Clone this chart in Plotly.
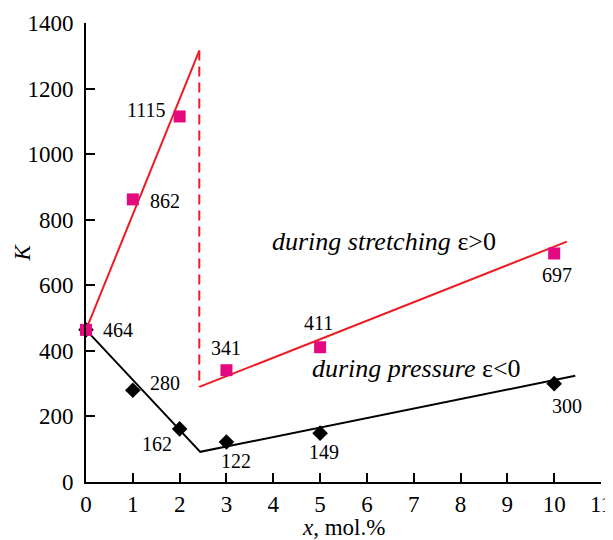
import plotly.graph_objects as go

# ---- data ----
x_points = [0, 1, 2, 3, 5, 10]
stretch_values = [464, 862, 1115, 341, 411, 697]
pressure_x = [0, 1, 2, 3, 5, 10]
pressure_values = [464, 280, 162, 122, 149, 300]

# fitted lines
stretch_fit1_x = [0, 2.42]
stretch_fit1_y = [464, 1316]
jump_x = [2.42, 2.42]
jump_y = [1316, 290]
stretch_fit2_x = [2.42, 10.27]
stretch_fit2_y = [290, 733]
pressure_fit_x = [0, 2.44, 10.45]
pressure_fit_y = [464, 92, 324]

x_ticks = list(range(0, 12))
y_ticks = list(range(0, 1401, 200))

stretch_labels = ["464", "862", "1115", "341", "411", "697"]
pressure_labels = ["", "280", "162", "122", "149", "300"]

# label offsets (pixels)
stretch_offsets = [(32, 0), (32, -2), (-33, 6), (0, 22), (-2, 24), (3, -22)]
pressure_offsets = [(0, 0), (32, 7), (-23, -15), (10, -19), (4, -19), (13, -22)]

RED = "#ED1C24"
MAG = "#E5097F"
FONT = "Liberation Serif, Times New Roman, DejaVu Serif, serif"

fig = go.Figure()
fig.add_trace(go.Scatter(x=stretch_fit1_x, y=stretch_fit1_y, mode="lines",
                         line=dict(color=RED, width=2), hoverinfo="skip"))
fig.add_trace(go.Scatter(x=jump_x, y=jump_y, mode="lines",
                         line=dict(color=RED, width=2, dash="10px,6px"), hoverinfo="skip"))
fig.add_trace(go.Scatter(x=stretch_fit2_x, y=stretch_fit2_y, mode="lines",
                         line=dict(color=RED, width=2), hoverinfo="skip"))
fig.add_trace(go.Scatter(x=pressure_fit_x, y=pressure_fit_y, mode="lines",
                         line=dict(color="black", width=2), hoverinfo="skip"))
fig.add_trace(go.Scatter(x=pressure_x, y=pressure_values, mode="markers", cliponaxis=False,
                         marker=dict(symbol="diamond", size=12, color="black")))
fig.add_trace(go.Scatter(x=x_points, y=stretch_values, mode="markers", cliponaxis=False,
                         marker=dict(symbol="square", size=12, color=MAG)))

annotations = []
for xv, yv, t, (dx, dy) in zip(x_points, stretch_values, stretch_labels, stretch_offsets):
    annotations.append(dict(x=xv, y=yv, text=t, showarrow=False, xshift=dx, yshift=dy,
                            font=dict(family=FONT, size=20, color="black")))
for xv, yv, t, (dx, dy) in zip(pressure_x, pressure_values, pressure_labels, pressure_offsets):
    if t:
        annotations.append(dict(x=xv, y=yv, text=t, showarrow=False, xshift=dx, yshift=dy,
                                font=dict(family=FONT, size=20, color="black")))
annotations.append(dict(x=6.37, y=735, text="<i>during stretching</i> ε&gt;0", showarrow=False,
                        font=dict(family=FONT, size=26, color="black")))
annotations.append(dict(x=7.05, y=345, text="<i>during pressure</i> ε&lt;0", showarrow=False,
                        font=dict(family=FONT, size=26, color="black")))
# axis titles
annotations.append(dict(xref="paper", yref="paper", x=0.5, y=0, yshift=-45, yanchor="middle",
                        text="<i>x</i>, mol.%", showarrow=False,
                        font=dict(family=FONT, size=23, color="black")))
annotations.append(dict(xref="paper", yref="paper", x=0, y=0.5, xshift=-64, xanchor="center",
                        text="<i>K</i>", textangle=-90, showarrow=False,
                        font=dict(family=FONT, size=23, color="black")))

# page body has an 8px margin, so the figure is sized/offset to compensate
fig.update_layout(
    width=605, height=532,
    margin=dict(l=78, r=12, t=15, b=58),
    paper_bgcolor="white", plot_bgcolor="white",
    showlegend=False,
    annotations=annotations,
    font=dict(family=FONT, color="black"),
)
fig.update_xaxes(range=[0, 11], tickvals=x_ticks, showgrid=False, zeroline=False, automargin=False,
                 showline=True, linecolor="black", linewidth=2,
                 ticks="inside", ticklen=9, tickwidth=2, tickcolor="black",
                 tickfont=dict(family=FONT, size=23, color="black"))
fig.update_yaxes(range=[0, 1400], tickvals=y_ticks, showgrid=False, zeroline=False, automargin=False,
                 showline=True, linecolor="black", linewidth=2,
                 ticks="inside", ticklen=9, tickwidth=2, tickcolor="black",
                 tickfont=dict(family=FONT, size=23, color="black"),
                 ticklabelstandoff=6)

fig.write_html("out.html")
